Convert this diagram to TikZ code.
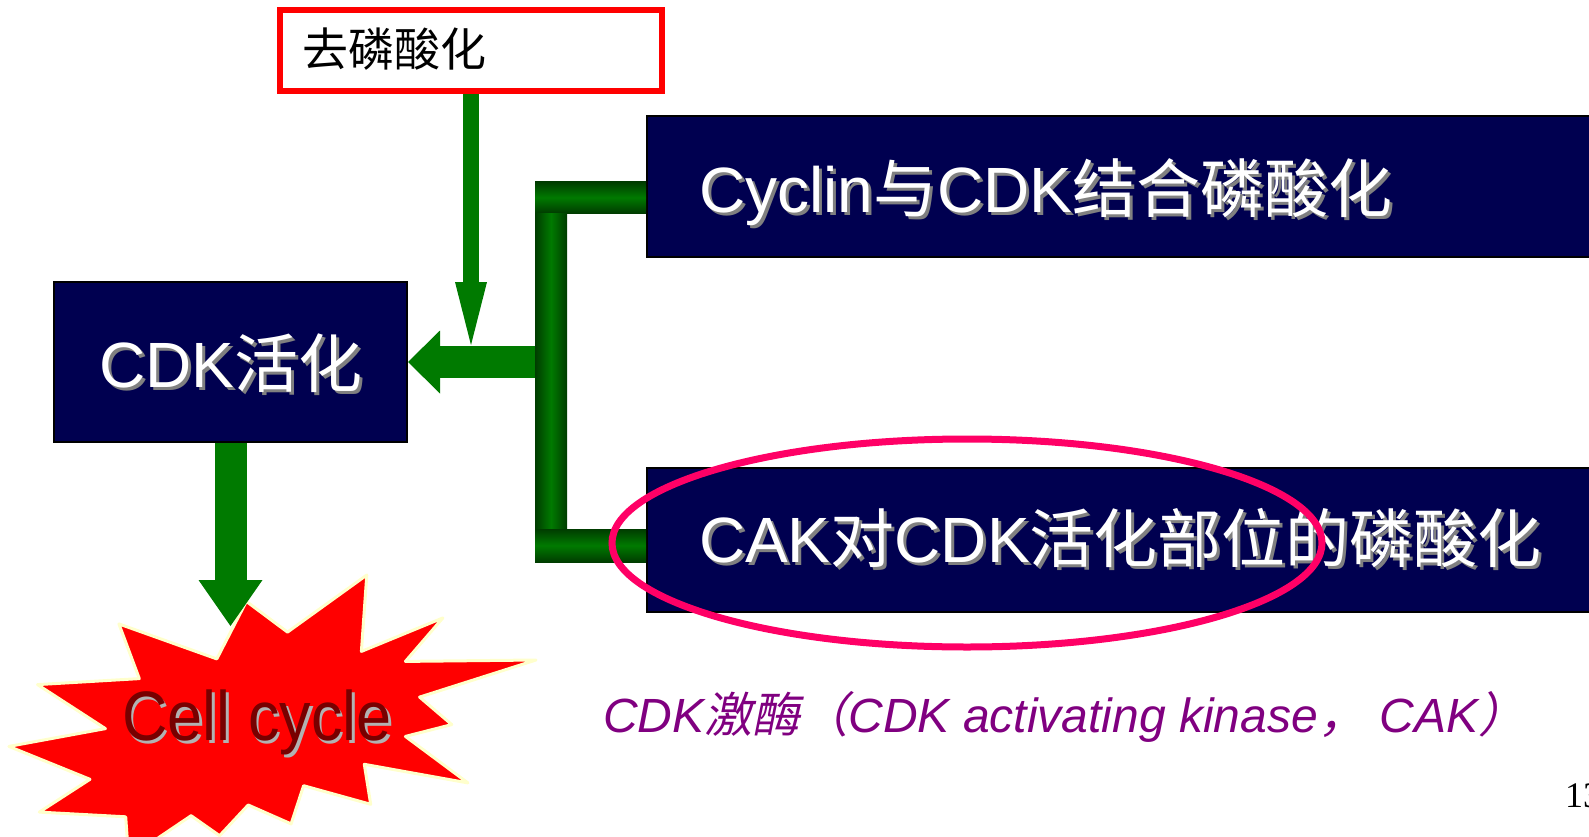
\documentclass[tikz,border=0pt]{standalone}
\usepackage{fontspec}
\setmainfont{Liberation Sans}
\newfontfamily\cjk{Noto Sans CJK SC}
\newfontfamily\cjkit[FakeSlant=0.2]{Noto Sans CJK SC}
\newfontfamily\serifnum{Liberation Serif}
\usetikzlibrary{arrows.meta}
\definecolor{navy}{RGB}{0,0,80}
\definecolor{arrgreen}{RGB}{0,122,0}
\definecolor{darkgreen}{RGB}{0,60,0}
\definecolor{ovalpink}{RGB}{255,0,102}
\definecolor{cellred}{RGB}{120,0,0}
\definecolor{purp}{RGB}{128,0,128}
\definecolor{starrim}{RGB}{255,255,204}
\newcommand{\shad}[2][gray]{\makebox[0pt][l]{\hspace{3pt}\raisebox{-3pt}{\textcolor{#1}{#2}}}#2}
\tikzset{
  navybox/.style={draw=black, line width=2pt, fill=navy, text=white, anchor=north west,
    align=left, font=\fontsize{64}{70}\selectfont, text depth=0pt, inner ysep=0pt},
  fatarrow/.style={arrgreen, line width=#1},
  hbar/.style={top color=darkgreen, bottom color=darkgreen, middle color=arrgreen},
  vbar/.style={left color=darkgreen, right color=darkgreen, middle color=arrgreen},
}
\begin{document}
\begin{tikzpicture}[x=1pt,y=-1pt]
\useasboundingbox (0,0) rectangle (1589,837);
\clip (0,0) rectangle (1589,837);

% boxes
\node[draw=red, line width=6pt, fill=white, anchor=north west, minimum width=382pt, minimum height=81pt,
  text height=33pt, text depth=0pt, inner ysep=0pt, inner xsep=22pt, text width=338pt, align=left,
  font=\cjk\fontsize{46}{50}\selectfont] (deph) at (277,7) {去磷酸化};
\node[navybox, minimum width=353pt, minimum height=160pt, text height=50pt, inner xsep=45pt, text width=263pt]
  (cdk) at (53,281) {\shad{CDK{\cjk 活化}}};
\node[navybox, minimum height=141pt, text height=51pt, inner xsep=52pt, text width=1000pt]
  (cyc) at (646,115) {\shad{Cyclin{\cjk 与}CDK{\cjk 结合磷酸化}}};
\node[navybox, minimum height=144pt, text height=44pt, inner xsep=52pt, text width=1000pt]
  (cak) at (646,467) {\shad{CAK{\cjk 对}CDK{\cjk 活化部位的磷酸化}}};

% starburst
\draw[fill=red, draw=starrim, line width=3pt, line join=round]
  (246.4,601.4) -- (287.5,632.1) -- (366.8,575) -- (361.4,651.4) -- (442.9,617.9) -- (405.4,661.4)
  -- (536,660) -- (419.6,697.1) -- (451.8,724.6) -- (405.4,736.4) -- (467.9,782.9) -- (364.3,764.3)
  -- (370.7,804.3) -- (303.6,785.7) -- (291.1,823.9) -- (248.2,805) -- (219.6,835.7) -- (191.1,815.7)
  -- (128.6,857.9) -- (125.7,816.8) -- (39.3,812.1) -- (90,779.3) -- (8.9,746.4) -- (105.4,728.6)
  -- (37.5,684.6) -- (139.3,678.6) -- (118.9,623.9) -- (216.8,658.9) -- cycle;
\node[anchor=base west, inner sep=0pt, text=cellred, font=\fontsize{70}{76}\selectfont]
  (cc) at (122,740) {\scalebox{0.9}[1]{\shad[gray!60]{Cell cycle}}};

% connectors
\coordinate (dtip) at (471,345);
\coordinate (junc) at (551,362);
\coordinate (burst) at (230.5,626);
\draw[fatarrow=16pt, -{Triangle[length=63pt, width=32pt, line width=0pt]}] (deph.south) -- (dtip);
\draw[fatarrow=32pt, -{Triangle[length=32pt, width=63pt, line width=0pt]}] (junc) -- (cdk.east);
\draw[fatarrow=32pt, -{Triangle[length=46pt, width=64pt, line width=0pt]}] (cdk.south) -- (burst);

% bracket
\shade[hbar] (535,182) rectangle (cyc.west |- 0,213);
\shade[vbar] (535,213) rectangle (567,529);
\shade[hbar] (535,529) rectangle (cak.west |- 0,562);

% highlight oval
\draw[ovalpink, line width=7pt] (967,543) ellipse [x radius=355, y radius=104];

% caption and page number
\node[anchor=base west, inner sep=0pt, text=purp, font=\fontsize{48}{52}\selectfont\itshape]
  (cap) at (603,732) {CDK{\cjkit 激酶（}CDK activating kinase{\cjkit ，} CAK{\cjkit ）}};
\node[anchor=base west, inner sep=0pt, font=\serifnum\fontsize{36}{40}\selectfont] (pg) at (1565,807) {13};
\end{tikzpicture}
\end{document}
